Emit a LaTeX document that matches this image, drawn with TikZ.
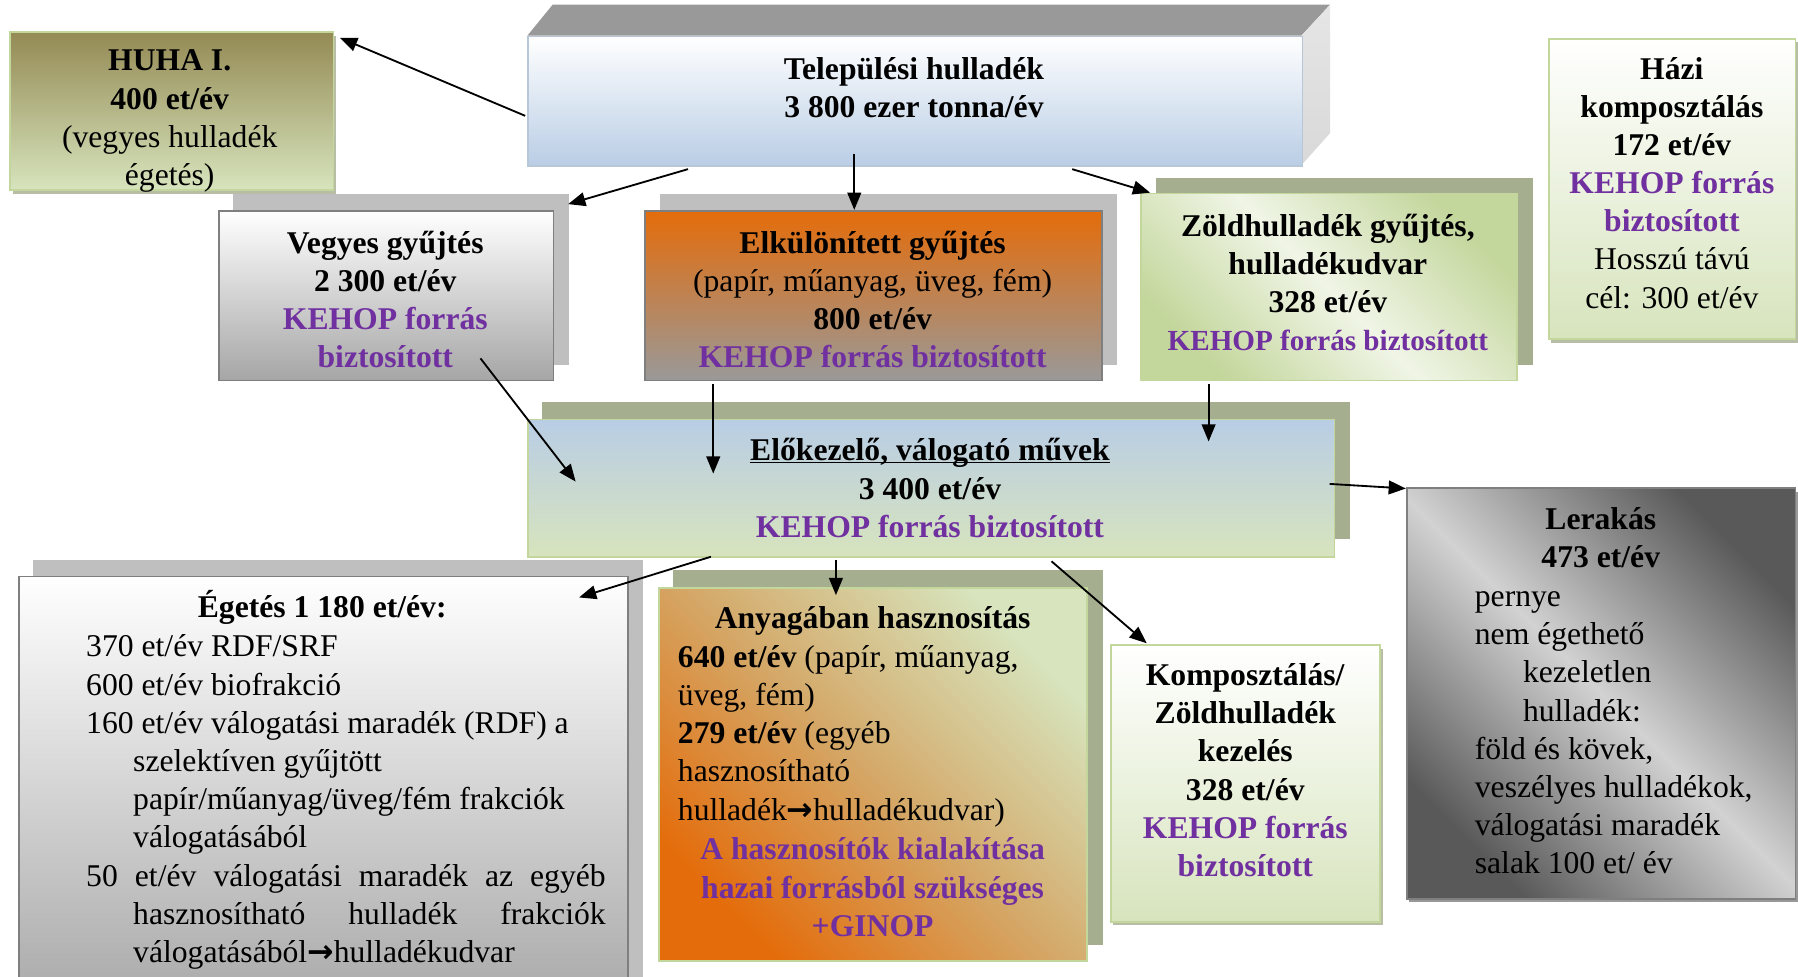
\documentclass[tikz,border=0pt]{standalone}
\usepackage{fontspec}
\setmainfont{Liberation Serif}
\newfontfamily\arrowfont{DejaVu Sans}
\usetikzlibrary{arrows.meta,calc}
\definecolor{kpurple}{HTML}{7030A0}
\definecolor{kgborder}{HTML}{C3D69B}
\definecolor{kgshadow}{HTML}{A5AE8F}
\definecolor{kgray}{HTML}{BFBFBF}
\definecolor{kdark}{HTML}{7F7F7F}
\definecolor{kolive}{HTML}{948A54}
\definecolor{klgreen}{HTML}{D7E4BD}
\definecolor{kvlgreen}{HTML}{F0F5E6}
\definecolor{klblue}{HTML}{B9CDE5}
\definecolor{korange}{HTML}{E46C0A}
\definecolor{ktan}{HTML}{D4A868}
\definecolor{klerdark}{HTML}{595959}
\definecolor{klerlight}{HTML}{D2D2D2}
\newcommand\kstrut{\rule{0pt}{26pt}}
\newcommand\karr{{\arrowfont\bfseries →}}
\begin{document}
\begin{tikzpicture}[x=1pt,y=-1pt,
  font=\fontsize{27.6}{33.3}\selectfont,
  box/.style={inner sep=0pt, anchor=north west, line width=1.5pt},
  txt/.style={inner sep=0pt, anchor=north, align=center},
  ltxt/.style={inner sep=0pt, anchor=north west, align=left},
  arr/.style={line width=1.6pt, -{Triangle[length=15pt,width=12pt]}}]
\useasboundingbox (0,0) rectangle (1568,852);
% shadows
\fill[kgray] (203,169) rectangle (496,318);
\fill[kgray] (576,169) rectangle (974,318);
\fill[kgshadow] (1008,155) rectangle (1337,318);
\fill[kgshadow] (473,351) rectangle (1177,470);
\fill[kgray] (29,488) rectangle (561,870);
\fill[kgshadow] (587,497) rectangle (962,824);
\fill[kgshadow!80] (11,31) rectangle (293,169);
\fill[kgshadow!80] (1353,37) rectangle (1570,299);
\fill[kgshadow!80] (971,566) rectangle (1206,807);
\fill[kdark!80] (1229,429) rectangle (1570,787);
% 3D box faces
\fill[gray!80!white] (460,31) -- (482,4) -- (1160,4) -- (1135,31) -- cycle;
\shade[top color=gray!20, bottom color=gray!30] (1135,31) -- (1160,4) -- (1160,116) -- (1135,144) -- cycle;
% boxes
\node[box, draw=klblue!90!black!80, top color=white, bottom color=klblue, minimum width=675pt, minimum height=113pt] (tel) at (460,31) {};
\node[box, draw=kgborder, top color=kolive, bottom color=klgreen, minimum width=282pt, minimum height=138pt] (huha) at (8,27) {};
\node[box, draw=kdark, top color=white, bottom color=gray!70, minimum width=292pt, minimum height=148pt] (veg) at (190,183) {};
\node[box, draw=kdark, top color=korange, bottom color=gray!80, minimum width=398pt, minimum height=148pt] (elk) at (562,183) {};
\node[box, draw=kgborder, left color=kgborder, right color=kgborder, middle color=kvlgreen, shading angle=-45, minimum width=328pt, minimum height=163pt] (zold) at (994,168) {};
\node[box, draw=kgborder, top color=white, bottom color=klgreen, minimum width=215pt, minimum height=262pt] (hazi) at (1350,33) {};
\node[box, draw=kgborder, top color=klblue, bottom color=klgreen, minimum width=703pt, minimum height=120pt] (elo) at (460,365) {};
\node[box, draw=kdark, top color=white, bottom color=gray!65, minimum width=531pt, minimum height=360pt] (eget) at (16,502) {};
\node[box, draw=kgborder, left color=korange, right color=klgreen, middle color=ktan, shading angle=135, minimum width=373pt, minimum height=325pt] (anyag) at (574,512) {};
\node[box, draw=kgborder, top color=white, bottom color=klgreen, minimum width=235pt, minimum height=241pt] (komp) at (968,562) {};
\node[box, draw=kdark, left color=klerdark, right color=klerdark, middle color=klerlight, shading angle=-45, minimum width=339pt, minimum height=358pt] (ler) at (1226,425) {};
% arrows
\draw[arr] ($(tel.north west)+(-2,70)$) -- ($(huha.north east)+(5,6)$);
\draw[arr] ($(tel.south west)+(140,2)$) -- ($(veg.north east)+(12,-5)$);
\draw[arr] ($(tel.south west)+(285,-11)$) -- ($(elk.north west)+(183,0)$);
\draw[arr] ($(tel.south west)+(475,2)$) -- ($(zold.north west)+(9,0)$);
\draw[arr] ($(veg.south west)+(229,-20)$) -- ($(elo.north west)+(42,55)$);
\draw[arr] ($(elk.south west)+(60,2)$) -- ($(elo.north west)+(162,48)$);
\draw[arr] ($(zold.south west)+(60,2)$) -- ($(elo.north west)+(594,20)$);
\draw[arr] ($(elo.north east)+(-5,57)$) -- ($(ler.north west)+(0,1)$);
\draw[arr] ($(elo.south west)+(160,-1)$) -- ($(eget.north west)+(489,19)$);
\draw[arr] ($(elo.south west)+(269,2)$) -- ($(anyag.north west)+(155,7)$);
\draw[arr] ($(elo.south west)+(457,3)$) -- ($(komp.north west)+(32,-1)$);
% texts
\node[txt] (telt) at (797,43) {\kstrut\textbf{Települési hulladék}\\\textbf{3 800 ezer tonna/év}};
\node[txt] (huhat) at (148,35.7) {\kstrut\textbf{HUHA I.}\\\textbf{400 et/év}\\(vegyes hulladék\\égetés)};
\node[txt] (vegt) at (336,194.7) {\kstrut\textbf{Vegyes gyűjtés}\\\textbf{2 300 et/év}\\\textcolor{kpurple}{\textbf{KEHOP forrás}}\\\textcolor{kpurple}{\textbf{biztosított}}};
\node[txt] (elkt) at (761,194.7) {\kstrut\textbf{Elkülönített gyűjtés}\\(papír, műanyag, üveg, fém)\\\textbf{800 et/év}\\\textcolor{kpurple}{\textbf{KEHOP forrás biztosított}}};
\node[txt] (zoldt) at (1158,179.7) {\kstrut\textbf{Zöldhulladék gyűjtés,}\\\textbf{hulladékudvar}\\\textbf{328 et/év}\\{\fontsize{25.4}{33.3}\selectfont\textcolor{kpurple}{\textbf{KEHOP forrás biztosított}}}};
\node[txt] (hazit) at (1458,42.7) {\kstrut\textbf{Házi}\\\textbf{komposztálás}\\\textbf{172 et/év}\\\textcolor{kpurple}{\textbf{KEHOP forrás}}\\\textcolor{kpurple}{\textbf{biztosított}}\\Hosszú távú\\cél: 300 et/év};
\node[txt] (elot) at (811,375.7) {\kstrut\textbf{\underline{\smash{Előkezelő, válogató művek}}}\\\textbf{3 400 et/év}\\\textcolor{kpurple}{\textbf{KEHOP forrás biztosított}}};
\node[txt] (egett) at (281,512.7) {\kstrut\textbf{Égetés 1 180 et/év:}};
\node[ltxt] (egetb) at (75,546.7) {\kstrut 370 et/év RDF/SRF\\600 et/év biofrakció\\160 et/év válogatási maradék (RDF) a\\\hspace*{41pt}szelektíven gyűjtött\\\hspace*{41pt}papír/műanyag/üveg/fém frakciók\\\hspace*{41pt}válogatásából\\\makebox[453pt][s]{50 et/év válogatási maradék az egyéb}\\\hspace*{41pt}\makebox[412pt][s]{hasznosítható hulladék frakciók}\\\hspace*{41pt}válogatásából\karr hulladékudvar};
\node[txt] (anyagt) at (761,521.7) {\kstrut\textbf{Anyagában hasznosítás}};
\node[ltxt] (anyagb) at (591,555.7) {\kstrut\textbf{640 et/év} (papír, műanyag,\\üveg, fém)\\\textbf{279 et/év} (egyéb\\hasznosítható\\hulladék\karr hulladékudvar)};
\node[txt] (anyagp) at (761,723.7) {\kstrut\textcolor{kpurple}{\textbf{A hasznosítók kialakítása}}\\\textcolor{kpurple}{\textbf{hazai forrásból szükséges}}\\\textcolor{kpurple}{\textbf{+GINOP}}};
\node[txt] (kompt) at (1086,571.7) {\kstrut\textbf{Komposztálás/}\\\textbf{Zöldhulladék}\\\textbf{kezelés}\\\textbf{328 et/év}\\\textcolor{kpurple}{\textbf{KEHOP forrás}}\\\textcolor{kpurple}{\textbf{biztosított}}};
\node[txt] (lert) at (1396,435.7) {\kstrut\textbf{Lerakás}\\\textbf{473 et/év}};
\node[ltxt] (lerb) at (1286,502.7) {\kstrut pernye\\nem égethető\\\hspace*{42pt}kezeletlen\\\hspace*{42pt}hulladék:\\föld és kövek,\\veszélyes hulladékok,\\válogatási maradék\\salak 100 et/ év};
\end{tikzpicture}
\end{document}
